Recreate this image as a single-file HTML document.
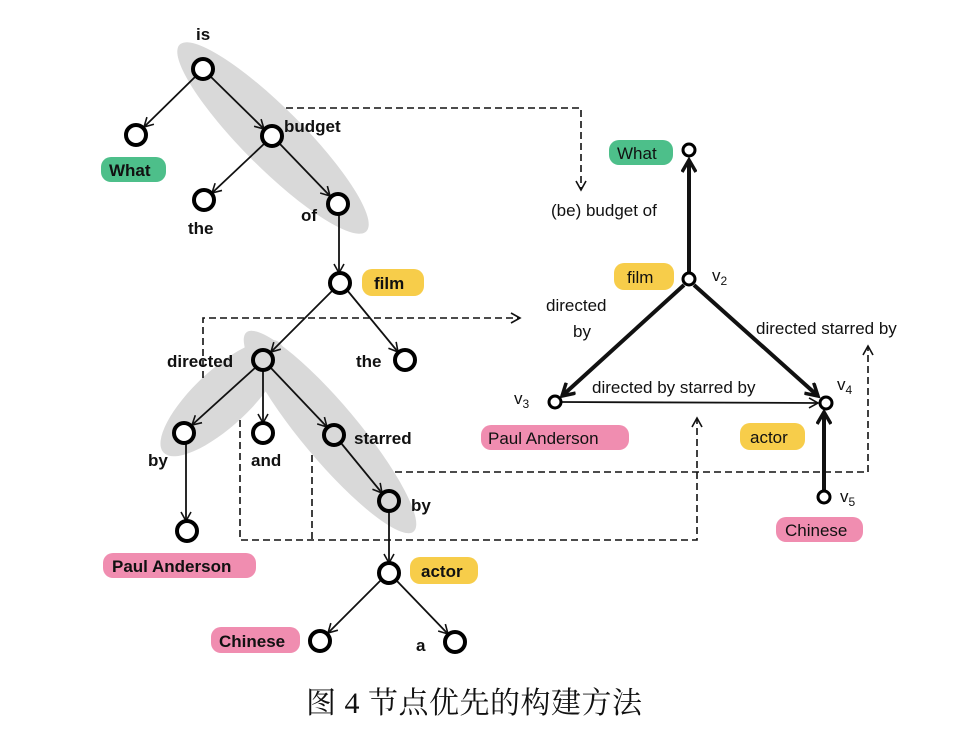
<!DOCTYPE html>
<html><head><meta charset="utf-8"><style>
body{margin:0;background:#fff;}
svg{display:block;}
.b{font-family:"Liberation Sans",sans-serif;font-weight:bold;font-size:17px;fill:#111;}
.n{font-family:"Liberation Sans",sans-serif;font-size:17px;fill:#111;}
</style></head><body>
<svg width="978" height="748" viewBox="0 0 978 748" xmlns="http://www.w3.org/2000/svg">
<defs>
<marker id="a" markerWidth="12" markerHeight="12" refX="10" refY="6" orient="auto" markerUnits="userSpaceOnUse"><path d="M1,1 L10,6 L1,11" fill="none" stroke="#111" stroke-width="1.6"/></marker>
<marker id="t" markerWidth="16" markerHeight="16" refX="13" refY="8" orient="auto" markerUnits="userSpaceOnUse"><path d="M1,1 L13,8 L1,15" fill="none" stroke="#111" stroke-width="3.5"/></marker>
</defs>
<g fill="#d9d9d9">
<ellipse cx="273" cy="138" rx="132" ry="30" transform="rotate(45 273 138)"/>
<ellipse cx="222" cy="398" rx="80" ry="28" transform="rotate(-43 222 398)"/>
<ellipse cx="330" cy="432" rx="130" ry="28" transform="rotate(50 330 432)"/>
</g>
<g fill="none" stroke="#111" stroke-width="1.6" stroke-dasharray="7,4">
<path d="M286,108 H581 V190" marker-end="url(#a)"/>
<path d="M203,378 V318 H520" marker-end="url(#a)"/>
<path d="M240,420 V540 H697 V418" marker-end="url(#a)"/>
<path d="M312,455 V540"/>
<path d="M395,472 H868 V346" marker-end="url(#a)"/>
</g>
<g stroke="#111" stroke-width="1.8" fill="none" marker-end="url(#a)">
<line x1="196" y1="76" x2="144" y2="127"/>
<line x1="210" y1="76" x2="264" y2="129"/>
<line x1="265" y1="143" x2="212" y2="193"/>
<line x1="279" y1="143" x2="330" y2="196"/>
<line x1="339" y1="214" x2="339" y2="273"/>
<line x1="333" y1="290" x2="271" y2="352"/>
<line x1="347" y1="290" x2="398" y2="352"/>
<line x1="256" y1="367" x2="192" y2="425"/>
<line x1="263" y1="370" x2="263" y2="423"/>
<line x1="270" y1="367" x2="327" y2="427"/>
<line x1="341" y1="443" x2="382" y2="493"/>
<line x1="186" y1="443" x2="186" y2="521"/>
<line x1="389" y1="511" x2="389" y2="563"/>
<line x1="381" y1="580" x2="328" y2="633"/>
<line x1="396" y1="580" x2="448" y2="634"/>
</g>
<g fill="#fff" stroke="#000" stroke-width="4">
<circle cx="203" cy="69" r="10"/><circle cx="136" cy="135" r="10"/><circle cx="272" cy="136" r="10"/>
<circle cx="204" cy="200" r="10"/><circle cx="338" cy="204" r="10"/><circle cx="340" cy="283" r="10"/>
<circle cx="405" cy="360" r="10"/><circle cx="184" cy="433" r="10"/>
<circle cx="263" cy="433" r="10"/><circle cx="187" cy="531" r="10"/>
<circle cx="389" cy="573" r="10"/><circle cx="320" cy="641" r="10"/><circle cx="455" cy="642" r="10"/>
</g>
<g fill="#d9d9d9" stroke="#000" stroke-width="4">
<circle cx="263" cy="360" r="10"/><circle cx="334" cy="435" r="10"/><circle cx="389" cy="501" r="10"/>
</g>
<rect x="101" y="157" width="65" height="25" rx="10" fill="#4dbf8a"/>
<rect x="362" y="269" width="62" height="27" rx="10" fill="#f7cd4a"/>
<rect x="103" y="553" width="153" height="25" rx="10" fill="#f08db0"/>
<rect x="410" y="557" width="68" height="27" rx="10" fill="#f7cd4a"/>
<rect x="211" y="627" width="89" height="26" rx="10" fill="#f08db0"/>
<rect x="609" y="140" width="64" height="25" rx="10" fill="#4dbf8a"/>
<rect x="614" y="263" width="60" height="27" rx="10" fill="#f7cd4a"/>
<rect x="481" y="425" width="148" height="25" rx="10" fill="#f08db0"/>
<rect x="740" y="423" width="65" height="27" rx="10" fill="#f7cd4a"/>
<rect x="776" y="517" width="87" height="25" rx="10" fill="#f08db0"/>
<g class="b">
<text x="196" y="40">is</text>
<text x="284" y="132">budget</text>
<text x="109" y="176">What</text>
<text x="188" y="234">the</text>
<text x="301" y="221">of</text>
<text x="374" y="289">film</text>
<text x="167" y="367">directed</text>
<text x="356" y="367">the</text>
<text x="148" y="466">by</text>
<text x="251" y="466">and</text>
<text x="354" y="444">starred</text>
<text x="411" y="511">by</text>
<text x="112" y="572">Paul Anderson</text>
<text x="421" y="577">actor</text>
<text x="219" y="647">Chinese</text>
<text x="416" y="651">a</text>
</g>
<g stroke="#111" fill="none">
<line x1="689" y1="272" x2="689" y2="160" stroke-width="4" marker-end="url(#t)"/>
<line x1="684" y1="285" x2="562" y2="396" stroke-width="4" marker-end="url(#t)"/>
<line x1="694" y1="285" x2="818" y2="396" stroke-width="4" marker-end="url(#t)"/>
<line x1="824" y1="490" x2="824" y2="412" stroke-width="4" marker-end="url(#t)"/>
<line x1="561" y1="402" x2="818" y2="403" stroke-width="1.8" marker-end="url(#a)"/>
</g>
<g fill="#fff" stroke="#000" stroke-width="3">
<circle cx="689" cy="150" r="6"/><circle cx="689" cy="279" r="6"/><circle cx="555" cy="402" r="6"/>
<circle cx="826" cy="403" r="6"/><circle cx="824" cy="497" r="6"/>
</g>
<g class="n">
<text x="617" y="159">What</text>
<text x="551" y="216">(be) budget of</text>
<text x="627" y="283">film</text>
<text x="712" y="281">v<tspan font-size="12" dy="4">2</tspan></text>
<text x="546" y="311">directed</text>
<text x="573" y="337">by</text>
<text x="756" y="334">directed starred by</text>
<text x="592" y="393">directed by starred by</text>
<text x="514" y="404">v<tspan font-size="12" dy="4">3</tspan></text>
<text x="837" y="390">v<tspan font-size="12" dy="4">4</tspan></text>
<text x="488" y="444">Paul Anderson</text>
<text x="750" y="443">actor</text>
<text x="840" y="502">v<tspan font-size="12" dy="4">5</tspan></text>
<text x="785" y="536">Chinese</text>
</g>
<text x="306" y="713" textLength="336" lengthAdjust="spacing" font-family="'Liberation Serif','Noto Serif CJK SC',serif" font-size="30" fill="#111">图 4  节点优先的构建方法</text>
</svg>
</body></html>
